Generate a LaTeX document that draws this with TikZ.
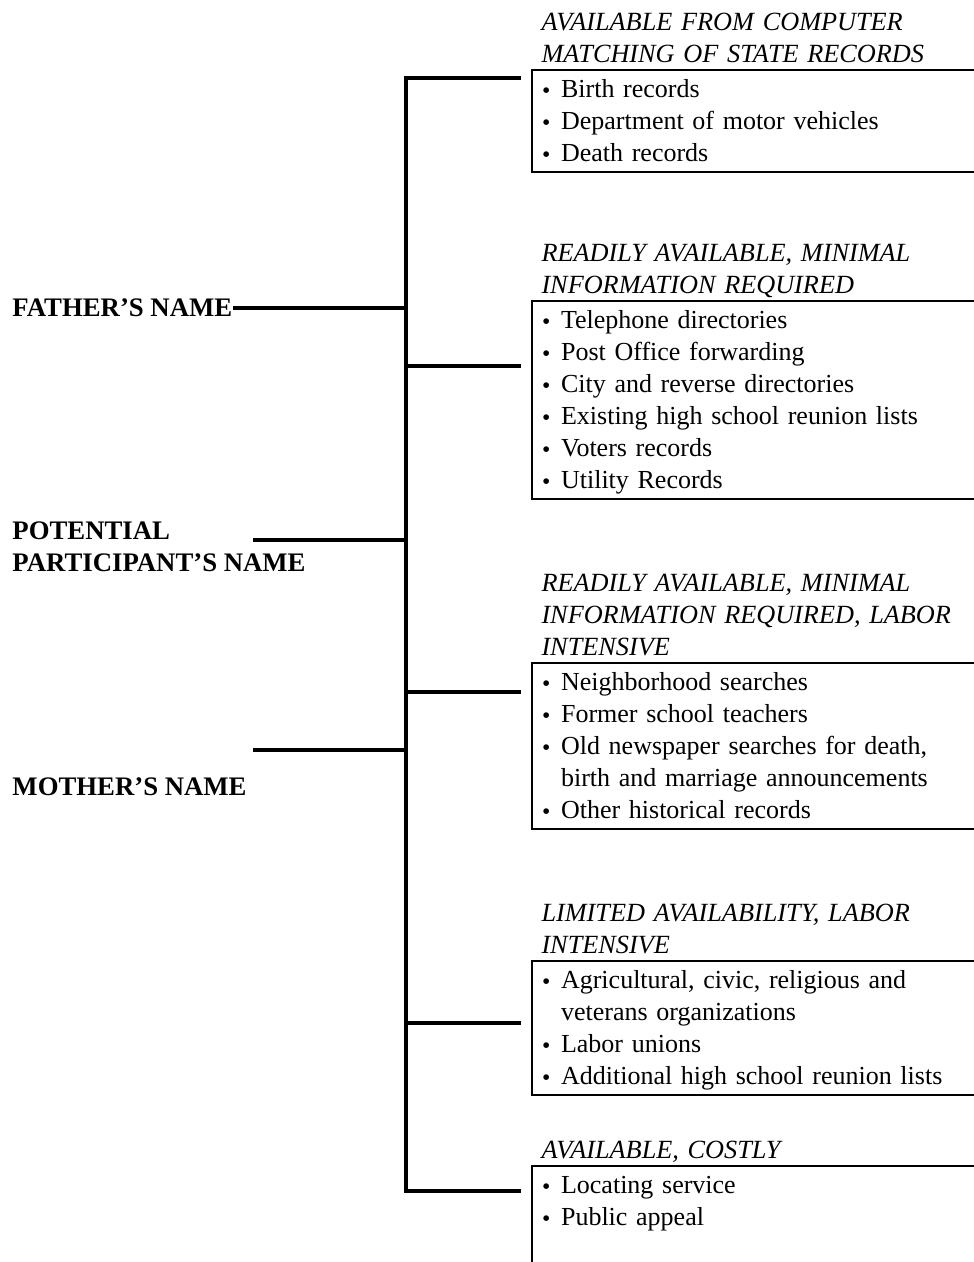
\documentclass[tikz,border=0pt]{standalone}
\usepackage{fontspec}
\setmainfont{Liberation Serif}
\usetikzlibrary{positioning}
\newcommand{\bul}{\makebox[7.6pt][l]{\raisebox{-0.2pt}{\fontsize{9.5}{9.5}\selectfont\textbullet}}}
\newcommand{\fst}{\rule{0pt}{10.7pt}}
\newcommand{\itm}[1]{\bul#1\strut}
\newcommand{\cnt}[1]{\hspace*{7.6pt}#1\strut}

\begin{document}
\begin{tikzpicture}[x=0.4pt,y=-0.4pt]
    \tikzset{lbl/.style={anchor=west,inner sep=0pt,align=left,font=\fontsize{10.7}{12.8}\selectfont\bfseries},
             box/.style={draw,line width=0.85pt,anchor=north west,text width=200pt,inner xsep=4pt,inner ysep=0.4pt,align=left,font=\fontsize{10.4}{12.8}\selectfont},
             head/.style={anchor=south west,inner xsep=4pt,inner ysep=0pt,text width=200pt,align=left,font=\fontsize{10.5}{12.8}\selectfont\itshape},
             link/.style={line width=1.25pt}}
    \useasboundingbox (0,0) rectangle (974,1262);
    \clip (0,0) rectangle (974,1262);

    \node[lbl] (father) at (12,308) {FATHER’S NAME};
    \node[lbl] (potential) at (12,547) {POTENTIAL\\PARTICIPANT’S NAME};
    \node[lbl] (mother) at (12,787) {MOTHER’S NAME};

    \node[box] (b1) at (531,69) {\fst\itm{Birth records}\\\itm{Department of motor vehicles}\\\itm{Death records}};
    \node[box] (b2) at (531,300) {\fst\itm{Telephone directories}\\\itm{Post Office forwarding}\\\itm{City and reverse directories}\\\itm{Existing high school reunion lists}\\\itm{Voters records}\\\itm{Utility Records}};
    \node[box] (b3) at (531,662) {\fst\itm{Neighborhood searches}\\\itm{Former school teachers}\\\itm{Old newspaper searches for death,}\\\cnt{birth and marriage announcements}\\\itm{Other historical records}};
    \node[box] (b4) at (531,960) {\fst\itm{Agricultural, civic, religious and}\\\cnt{veterans organizations}\\\itm{Labor unions}\\\itm{Additional high school reunion lists}};
    \node[box,text depth=30pt] (b5) at (531,1165) {\fst\itm{Locating service}\\\itm{Public appeal}};

    \node (h1) [above=-1.44pt of b1.north west,head] {AVAILABLE FROM COMPUTER\strut\\MATCHING OF STATE RECORDS\strut};
    \node (h2) [above=-1.44pt of b2.north west,head] {READILY AVAILABLE, MINIMAL\strut\\INFORMATION REQUIRED\strut};
    \node (h3) [above=-1.44pt of b3.north west,head] {READILY AVAILABLE, MINIMAL\strut\\INFORMATION REQUIRED, LABOR\strut\\INTENSIVE\strut};
    \node (h4) [above=-1.44pt of b4.north west,head] {LIMITED AVAILABILITY, LABOR\strut\\INTENSIVE\strut};
    \node (h5) [above=-1.44pt of b5.north west,head] {AVAILABLE, COSTLY\strut};

    \coordinate (t1) at (406,78);
    \coordinate (t2) at (406,366);
    \coordinate (t3) at (406,692);
    \coordinate (t4) at (406,1023);
    \coordinate (t5) at (406,1191);
    \coordinate (e1) at (521,78);
    \coordinate (e2) at (521,366);
    \coordinate (e3) at (521,692);
    \coordinate (e4) at (521,1023);
    \coordinate (e5) at (521,1191);
    \coordinate (p0) at (253,540);
    \coordinate (m0) at (253,750);

    \draw[link] (e1) -- (t1) -- (t5) -- (e5);
    \foreach \i in {2,3,4}
        \draw[link] (t\i) -- (e\i);
    \draw[link] (father.east) -- (father.east -| t1);
    \draw[link] (p0) -- (p0 -| t1);
    \draw[link] (m0) -- (m0 -| t1);
\end{tikzpicture}
\end{document}
